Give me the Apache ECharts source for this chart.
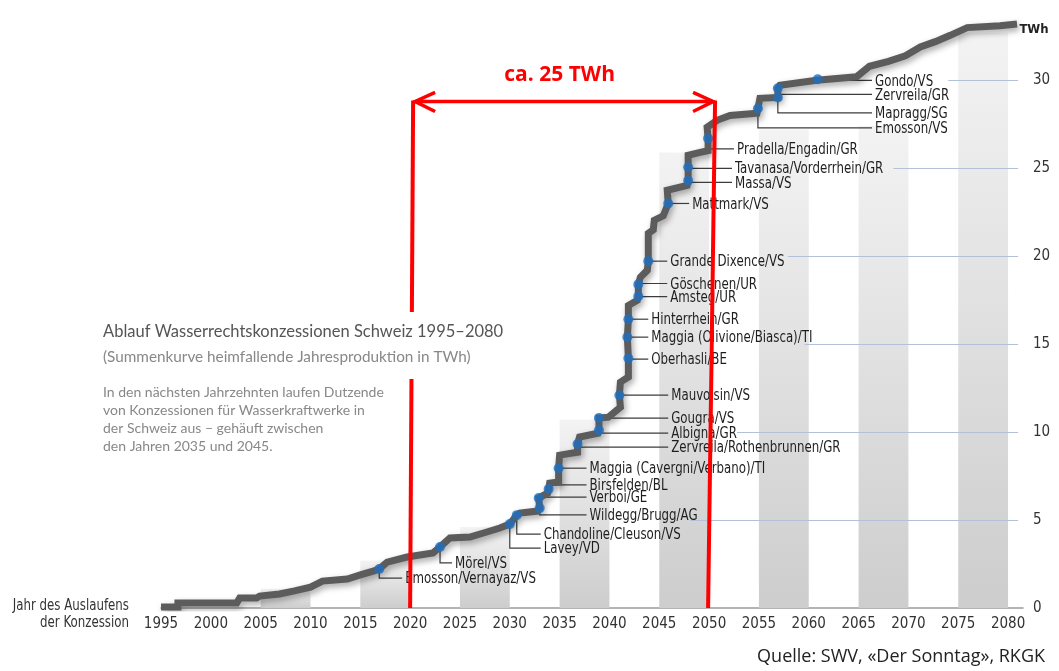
<!DOCTYPE html>
<html lang="de">
<head>
    <meta charset="utf-8">
    <title>Ablauf Wasserrechtskonzessionen Schweiz</title>
    <script src="https://cdn.jsdelivr.net/npm/echarts@6/dist/echarts.min.js"></script>
    <style>
        html, body { margin: 0; padding: 0; background: #fff; }
    </style>
</head>
<body>
    <div id="main" style="width: 1059px;height:671px;"></div>
    <script type="text/javascript">
        // cumulative curve [year, TWh]
        var curve = [
            [1995, 0.05], [1996.7, 0.05], [1996.7, 0.28], [2002.6, 0.28], [2002.9, 0.57], [2004.6, 0.57],
            [2004.9, 0.68], [2006.9, 0.8], [2008.4, 0.97], [2010.0, 1.19], [2011.2, 1.53], [2013.7, 1.65],
            [2015.0, 1.88], [2016.3, 2.1], [2016.9, 2.22], [2017.7, 2.61], [2019.7, 2.9], [2022.3, 3.13],
            [2023.0, 3.47], [2024.0, 3.98], [2026.0, 4.03], [2027.7, 4.32], [2029.0, 4.55], [2030.0, 4.77],
            [2030.7, 5.28], [2031.0, 5.4], [2032.8, 5.51], [2033.0, 5.68], [2032.9, 6.25], [2033.8, 6.53],
            [2033.9, 6.76], [2034.0, 7.1], [2034.9, 7.16], [2034.9, 7.95], [2035.0, 8.69], [2036.8, 8.86],
            [2036.8, 9.32], [2037.0, 9.72], [2038.85, 9.94], [2038.95, 10.11], [2038.95, 10.8], [2039.9, 10.85],
            [2041.1, 11.42], [2041.0, 12.1], [2041.1, 12.84], [2041.9, 13.13], [2041.9, 14.2], [2041.8, 15.4],
            [2041.9, 16.42], [2041.9, 17.2], [2042.8, 17.5], [2042.9, 17.73], [2042.9, 18.4], [2043.1, 18.8],
            [2043.8, 19.2], [2043.9, 19.72], [2043.9, 21.3], [2044.4, 21.5], [2044.5, 22.05], [2045.4, 22.3],
            [2045.9, 23.0], [2045.8, 23.75], [2047.8, 24.03], [2047.9, 24.3], [2047.9, 25.06], [2047.9, 25.74],
            [2049.1, 25.9], [2049.9, 26.0], [2049.9, 26.7], [2049.8, 27.33], [2050.8, 27.73], [2052.1, 28.0],
            [2054.8, 28.13], [2054.9, 28.4], [2055.1, 28.98], [2056.9, 29.03], [2056.9, 29.55], [2057.1, 29.72],
            [2060.8, 30.0], [2060.9, 30.1], [2064.8, 30.2], [2066.1, 30.8], [2068.0, 31.08], [2069.7, 31.4],
            [2071.2, 31.9], [2072.7, 32.2], [2074.2, 32.56], [2075.9, 33.0], [2079.2, 33.1], [2080.9, 33.2]
        ];

        // power plants: name, year, TWh
        var plants = [
            ['Emosson/Vernayaz/VS', 2016.9, 2.22],
            ['Mörel/VS', 2023.0, 3.47],
            ['Lavey/VD', 2030.0, 4.77],
            ['Chandoline/Cleuson/VS', 2030.7, 5.28],
            ['Wildegg/Brugg/AG', 2033.0, 5.68],
            ['Verboi/GE', 2032.9, 6.25],
            ['Birsfelden/BL', 2033.9, 6.76],
            ['Maggia (Cavergni/Verbano)/TI', 2034.9, 7.95],
            ['Zervreila/Rothenbrunnen/GR', 2036.8, 9.32],
            ['Albigna/GR', 2038.95, 10.11],
            ['Gougra/VS', 2038.95, 10.8],
            ['Mauvoisin/VS', 2041.0, 12.1],
            ['Oberhasli/BE', 2041.9, 14.2],
            ['Maggia (Olivione/Biasca)/TI', 2041.8, 15.4],
            ['Hinterrhein/GR', 2041.9, 16.42],
            ['Amsteg/UR', 2042.9, 17.73],
            ['Göschenen/UR', 2042.9, 18.4],
            ['Grande Dixence/VS', 2043.9, 19.72],
            ['Mattmark/VS', 2045.9, 23.0],
            ['Massa/VS', 2047.9, 24.3],
            ['Tavanasa/Vorderrhein/GR', 2047.9, 25.06],
            ['Pradella/Engadin/GR', 2049.9, 26.7],
            ['Emosson/VS', 2054.9, 28.4],
            ['Mapragg/SG', 2056.9, 29.03],
            ['Zervreila/GR', 2056.9, 29.55],
            ['Gondo/VS', 2060.9, 30.06]
        ];

        // label anchor for each plant: [leader level TWh, text start year]
        var labelAnchors = [
            [1.7, 2019.5], [2.56, 2024.5], [3.4, 2033.4], [4.2, 2033.4], [5.3, 2038.0],
            [6.3, 2038.0], [7.0, 2038.0], [7.95, 2038.0], [9.15, 2046.2], [9.94, 2046.2],
            [10.8, 2046.2], [12.1, 2046.2], [14.15, 2044.2], [15.4, 2044.2], [16.42, 2044.2],
            [17.7, 2046.1], [18.45, 2046.1], [19.72, 2046.1], [23.0, 2048.3], [24.2, 2052.6],
            [25.0, 2052.6], [26.1, 2052.8], [27.3, 2066.65], [28.15, 2066.65], [29.2, 2066.65],
            [30.0, 2066.65]
        ];

        // grey background columns: from, to, height
        var bands = [
            [2005, 2010, 1.1], [2015, 2020, 2.7], [2025, 2030, 4.6], [2035, 2040, 10.7],
            [2045, 2050, 25.9], [2055, 2060, 27.2], [2065, 2070, 27.4], [2075, 2080, 32.7]
        ];

        // y tick gridlines start only right of the labels
        var gridLevels = [5, 10, 15, 20, 25, 30];
        var gridStart = [2048.1, 2052.8, 2059.6, 2057.9, 2068.5, 2074.0];

        // red annotation
        var gapYears = [2020, 2050];
        var gapLabel = 'ca. 25 TWh';

        // no narrow font installed -> squeeze condensed font horizontally
        var narrow = '"DejaVu Sans Condensed", "DejaVu Sans", sans-serif';
        var squeeze = 0.82;

        var myChart = echarts.init(document.getElementById('main'));

        var option = {
            animation: false,
            grid: { left: 161, right: 36, top: 10, bottom: 63 },
            xAxis: {
                type: 'value',
                min: 1995,
                max: 2081.5,
                interval: 5,
                splitLine: { show: false },
                axisTick: { show: false },
                axisLine: { lineStyle: { color: '#9a9a9a', width: 1.5 } },
                axisLabel: {
                    margin: 9,
                    color: '#333',
                    fontSize: 15,
                    fontFamily: narrow,
                    formatter: function (v) { return (v % 5 === 0 && v <= 2080) ? String(v) : ''; }
                }
            },
            yAxis: {
                type: 'value',
                position: 'right',
                min: 0,
                max: 34,
                interval: 5,
                splitLine: { show: false },
                axisLine: { show: false },
                axisTick: { show: false },
                axisLabel: {
                    margin: 10,
                    color: '#333',
                    fontSize: 15,
                    fontFamily: narrow,
                    formatter: function (v) { return v <= 30 ? String(v) : ''; }
                }
            },
            series: [
                {
                    // background columns
                    type: 'custom',
                    z: 1,
                    silent: true,
                    data: bands,
                    encode: { x: [0, 1], y: 2 },
                    renderItem: function (params, api) {
                        var s = api.coord([api.value(0), api.value(2)]);
                        var e = api.coord([api.value(1), 0]);
                        return {
                            type: 'rect',
                            shape: { x: s[0], y: s[1], width: e[0] - s[0], height: e[1] - s[1] },
                            style: {
                                fill: new echarts.graphic.LinearGradient(0, 0, 0, 1, [
                                    { offset: 0, color: '#f3f3f3' },
                                    { offset: 1, color: '#cdcdcd' }
                                ])
                            }
                        };
                    },
                    markLine: {
                        silent: true,
                        symbol: 'none',
                        label: { show: false },
                        lineStyle: { color: '#b3c0da', width: 1, type: 'solid' },
                        data: gridLevels.map(function (v, i) {
                            return [{ coord: [gridStart[i], v] }, { coord: [2081, v] }];
                        })
                    }
                },
                {
                    // leader lines and plant names
                    type: 'custom',
                    z: 3,
                    silent: true,
                    data: plants.map(function (p) { return [p[1], p[2]]; }),
                    encode: { x: 0, y: 1 },
                    renderItem: function (params, api) {
                        var p = plants[params.dataIndex];
                        var a = labelAnchors[params.dataIndex];
                        var m = api.coord([p[1], p[2]]);
                        var d = api.coord([p[1], a[0]]);
                        var t = api.coord([a[1], a[0]]);
                        return {
                            type: 'group',
                            children: [
                                {
                                    type: 'polyline',
                                    shape: { points: [m, [m[0], d[1]], [t[0] - 3, d[1]]] },
                                    style: { stroke: '#3c3c3c', lineWidth: 1.2, fill: null }
                                },
                                {
                                    type: 'text',
                                    x: t[0],
                                    y: d[1] + 1,
                                    scaleX: squeeze,
                                    style: {
                                        text: p[0],
                                        font: '16px ' + narrow,
                                        fill: '#1e1e1e',
                                        align: 'left',
                                        verticalAlign: 'middle'
                                    }
                                }
                            ]
                        };
                    }
                },
                {
                    // cumulative curve
                    type: 'line',
                    z: 4,
                    silent: true,
                    data: curve,
                    showSymbol: false,
                    lineStyle: {
                        color: '#5c5c5c',
                        width: 7,
                        join: 'miter',
                        shadowColor: 'rgba(0,0,0,0.35)',
                        shadowBlur: 6,
                        shadowOffsetX: 2,
                        shadowOffsetY: 3
                    }
                },
                {
                    type: 'scatter',
                    z: 5,
                    silent: true,
                    symbolSize: 10,
                    itemStyle: { color: '#1f6fbf' },
                    data: plants.map(function (p) { return [p[1], p[2]]; })
                },
                {
                    // red "ca. 25 TWh" annotation
                    type: 'custom',
                    z: 10,
                    silent: true,
                    data: [[gapYears[0], 0]],
                    encode: { x: 0, y: 1 },
                    renderItem: function (params, api) {
                        var top = 28.86;
                        var l0 = api.coord([gapYears[0], 0]);
                        var l1 = api.coord([gapYears[0] + 0.3, top]);
                        var r0 = api.coord([gapYears[1] - 0.1, 0]);
                        var r1 = api.coord([gapYears[1] + 0.6, top]);
                        var a0 = api.coord([gapYears[0] + 0.5, 28.8]);
                        var a1 = api.coord([gapYears[1] + 0.4, 28.8]);
                        var txt = api.coord([(gapYears[0] + gapYears[1]) / 2, 30.3]);
                        var red = { stroke: '#ff0000', lineWidth: 4, fill: null };
                        var arr = { stroke: '#ff0000', lineWidth: 3.5, fill: null };
                        return {
                            type: 'group',
                            children: [
                                { type: 'line', shape: { x1: l0[0], y1: l0[1], x2: l1[0], y2: l1[1] }, style: red },
                                { type: 'line', shape: { x1: r0[0], y1: r0[1], x2: r1[0], y2: r1[1] }, style: red },
                                { type: 'line', shape: { x1: a0[0], y1: a0[1], x2: a1[0], y2: a1[1] }, style: arr },
                                { type: 'polyline', shape: { points: [[a0[0] + 20, a0[1] - 9], a0, [a0[0] + 20, a0[1] + 10]] }, style: arr },
                                { type: 'polyline', shape: { points: [[a1[0] - 20, a1[1] - 9], a1, [a1[0] - 20, a1[1] + 10]] }, style: arr },
                                {
                                    type: 'text', x: txt[0], y: txt[1],
                                    style: {
                                        text: gapLabel, fill: '#ff0000',
                                        font: 'bold 21px "Open Sans", "Noto Sans", sans-serif',
                                        align: 'center', verticalAlign: 'middle'
                                    }
                                }
                            ]
                        };
                    }
                }
            ],
            graphic: [
                { type: 'rect', z: 100, shape: { x: 96, y: 312, width: 420, height: 67 }, style: { fill: '#fff' } },
                { type: 'text', z: 101, x: 103, y: 332, style: { text: 'Ablauf Wasserrechtskonzessionen Schweiz 1995–2080', font: '16.5px Lato, sans-serif', fill: '#555', verticalAlign: 'middle' } },
                { type: 'text', z: 101, x: 103, y: 357, style: { text: '(Summenkurve heimfallende Jahresproduktion in TWh)', font: '15.3px Lato, sans-serif', fill: '#888', verticalAlign: 'middle' } },
                { type: 'text', z: 101, x: 103, y: 392, style: { text: 'In den nächsten Jahrzehnten laufen Dutzende', font: '14px Lato, sans-serif', fill: '#888', verticalAlign: 'middle' } },
                { type: 'text', z: 101, x: 103, y: 410, style: { text: 'von Konzessionen für Wasserkraftwerke in', font: '14px Lato, sans-serif', fill: '#888', verticalAlign: 'middle' } },
                { type: 'text', z: 101, x: 103, y: 428, style: { text: 'der Schweiz aus – gehäuft zwischen', font: '14px Lato, sans-serif', fill: '#888', verticalAlign: 'middle' } },
                { type: 'text', z: 101, x: 103, y: 446, style: { text: 'den Jahren 2035 und 2045.', font: '14px Lato, sans-serif', fill: '#888', verticalAlign: 'middle' } },
                { type: 'text', z: 101, x: 129, y: 606, scaleX: squeeze, style: { text: 'Jahr des Auslaufens', font: '16px ' + narrow, fill: '#333', align: 'right', verticalAlign: 'middle' } },
                { type: 'text', z: 101, x: 129, y: 623, scaleX: squeeze, style: { text: 'der Konzession', font: '16px ' + narrow, fill: '#333', align: 'right', verticalAlign: 'middle' } },
                { type: 'text', z: 101, x: 1034, y: 30, style: { text: 'TWh', font: 'bold 13px ' + narrow, fill: '#222', align: 'center', verticalAlign: 'middle' } },
                { type: 'text', z: 101, x: 1045, y: 657, style: { text: 'Quelle: SWV, «Der Sonntag», RKGK', font: '18px "Open Sans", sans-serif', fill: '#222', align: 'right', verticalAlign: 'middle' } }
            ]
        };

        myChart.setOption(option);
    </script>
</body>
</html>
